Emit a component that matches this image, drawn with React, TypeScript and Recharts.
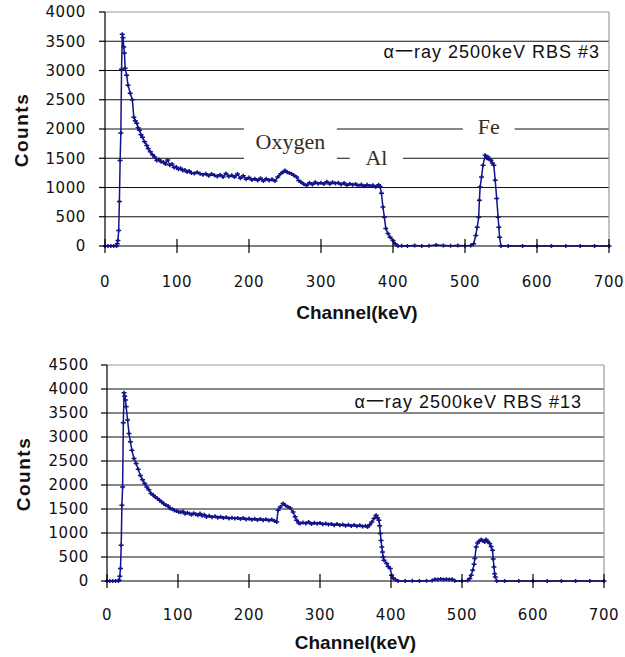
import {
  LineChart,
  Line,
  XAxis,
  YAxis,
  CartesianGrid,
  ReferenceLine,
  ReferenceArea,
  ReferenceDot,
} from "recharts";

// channel ticks shared by both spectra
const channelTicks = [0, 100, 200, 300, 400, 500, 600, 700];
const topCountTicks = [0, 500, 1000, 1500, 2000, 2500, 3000, 3500, 4000];
const bottomCountTicks = [0, 500, 1000, 1500, 2000, 2500, 3000, 3500, 4000, 4500];

// sample #3
const topChannels = [
  0, 4, 8, 12, 16, 17, 18, 19, 20, 21, 22, 23, 24, 25, 26, 27, 28, 30, 32, 35, 38, 40, 42, 44, 46, 48, 50, 52,
  55, 58, 60, 63, 66, 69, 72, 75, 78, 81, 84, 87, 90, 93, 96, 99, 102, 105, 108, 111, 114, 117, 120, 124, 128,
  132, 136, 140, 144, 148, 152, 156, 160, 164, 168, 172, 176, 180, 184, 188, 192, 196, 200, 204, 208, 212, 216,
  220, 224, 228, 232, 236, 240, 244, 248, 250, 253, 256, 259, 262, 266, 269, 272, 276, 280, 284, 288, 292, 296,
  300, 304, 308, 312, 316, 320, 324, 328, 332, 336, 340, 344, 348, 352, 356, 360, 364, 368, 372, 376, 380, 382,
  384, 386, 388, 390, 393, 396, 400, 403, 407, 412, 420, 430, 440, 450, 460, 470, 480, 490, 500, 508, 512, 515,
  517, 519, 520, 521, 523, 525, 528, 530, 532, 534, 536, 538, 540, 542, 544, 546, 547, 548, 550, 560, 580, 600,
  620, 640, 660, 680, 700,
];
const topCounts = [
  0, 0, 0, 0, 0, 40, 95, 265, 760, 1460, 1930, 3020, 3620, 3560, 3400, 3300, 3040, 2920, 2750, 2610, 2500, 2200,
  2140, 2100, 2020, 1980, 1900, 1860, 1780, 1720, 1665, 1610, 1560, 1520, 1460, 1480, 1440, 1435, 1400, 1470,
  1380, 1400, 1340, 1350, 1310, 1330, 1290, 1300, 1265, 1280, 1250, 1240, 1260, 1237, 1220, 1235, 1200, 1230,
  1208, 1190, 1220, 1180, 1240, 1190, 1210, 1180, 1230, 1160, 1200, 1140, 1170, 1130, 1150, 1120, 1160, 1110,
  1150, 1120, 1140, 1110, 1180, 1237, 1270, 1290, 1260, 1250, 1235, 1210, 1180, 1120, 1093, 1060, 1036, 1080,
  1050, 1090, 1065, 1080, 1060, 1100, 1060, 1090, 1070, 1080, 1050, 1075, 1040, 1065, 1045, 1060, 1030, 1050,
  1020, 1045, 1025, 1040, 1010, 1045, 1015, 900, 665, 493, 300, 214, 150, 94, 40, 0, 5, 0, 10, 0, 5, 15, 10, 5,
  10, 5, 10, 40, 180, 322, 493, 780, 1007, 1180, 1380, 1550, 1500, 1520, 1480, 1465, 1420, 1380, 1122, 813, 493,
  320, 150, 0, 0, 0, 0, 0, 0, 0, 0, 0,
];

// sample #13
const bottomChannels = [
  0, 4, 8, 12, 16, 17, 18, 19, 20, 21, 22, 23, 24, 25, 26, 27, 29, 31, 33, 35, 38, 41, 44, 47, 50, 53, 56, 59,
  62, 65, 68, 71, 74, 77, 80, 83, 86, 89, 92, 95, 98, 101, 104, 107, 110, 113, 116, 119, 122, 125, 128, 131, 134,
  137, 140, 144, 148, 152, 156, 160, 164, 168, 172, 176, 180, 184, 188, 192, 196, 200, 204, 208, 212, 216, 220,
  224, 228, 232, 236, 239, 241, 244, 248, 251, 255, 258, 262, 265, 267, 270, 272, 276, 280, 284, 288, 292, 296,
  300, 304, 308, 312, 316, 320, 324, 328, 332, 336, 340, 344, 348, 352, 356, 360, 364, 367, 370, 373, 376, 379,
  381, 383, 384, 385, 386, 387, 388, 389, 390, 394, 396, 399, 401, 403, 406, 410, 420, 430, 440, 450, 458, 462,
  466, 470, 474, 478, 482, 486, 490, 500, 508, 511, 513, 515, 517, 518, 520, 522, 524, 527, 529, 532, 534, 536,
  539, 541, 543, 544, 545, 546, 547, 549, 560, 580, 600, 620, 640, 660, 680, 700,
];
const bottomCounts = [
  0, 0, 0, 0, 0, 20, 100, 258, 745, 1580, 1960, 3296, 3922, 3850, 3770, 3630, 3352, 3075, 2900, 2726, 2553, 2449,
  2330, 2200, 2110, 2032, 1960, 1900, 1823, 1790, 1752, 1720, 1680, 1648, 1610, 1579, 1560, 1510, 1500, 1470,
  1460, 1440, 1430, 1450, 1400, 1420, 1405, 1380, 1410, 1390, 1370, 1405, 1360, 1380, 1335, 1360, 1330, 1350,
  1320, 1340, 1310, 1330, 1300, 1320, 1300, 1310, 1290, 1310, 1280, 1300, 1275, 1295, 1270, 1290, 1266, 1285,
  1260, 1280, 1250, 1231, 1475, 1540, 1614, 1580, 1544, 1520, 1440, 1340, 1266, 1210, 1197, 1220, 1200, 1230,
  1190, 1215, 1195, 1210, 1180, 1200, 1175, 1190, 1162, 1185, 1160, 1175, 1150, 1170, 1145, 1165, 1140, 1160,
  1135, 1150, 1126, 1170, 1231, 1300, 1370, 1320, 1266, 1150, 989, 846, 710, 605, 500, 432, 363, 300, 258, 119,
  60, 29, 0, 0, 5, 0, 5, 10, 35, 30, 40, 30, 35, 30, 35, 5, 0, 10, 50, 120, 223, 350, 467, 710, 790, 830, 864,
  840, 814, 864, 830, 780, 720, 640, 460, 292, 150, 83, 0, 0, 0, 0, 0, 0, 0, 0, 0,
];

const topData = topChannels.map((ch, i) => ({ ch, counts: topCounts[i] }));
const bottomData = bottomChannels.map((ch, i) => ({ ch, counts: bottomCounts[i] }));

const NAVY = "#12128a";
const tickFont = { fontFamily: "DejaVu Sans", fontSize: 15, fill: "#111", letterSpacing: 0.6 };
const noteFont = { fontFamily: "Liberation Serif", fontSize: 22, fill: "#3a2c1c" };
const rbsFont = {
  fontFamily: "Liberation Sans, Noto Sans CJK SC",
  fontSize: 18,
  fill: "#111",
  letterSpacing: 1,
};

const CrossDot = (props: any) => {
  const { cx, cy, index } = props;
  if (cx == null || cy == null) return <g key={index} />;
  return (
    <path
      key={index}
      d={`M${cx - 2.5},${cy}H${cx + 2.5}M${cx},${cy - 2}V${cy + 2}`}
      stroke={NAVY}
      strokeWidth={1.5}
      fill="none"
    />
  );
};

const makeXTick = (labelGap: number) => (props: any) => {
  const { x, y, payload } = props;
  const axisY = y - 7;
  return (
    <g>
      <line x1={x} x2={x} y1={axisY - 7} y2={axisY + 7} stroke="#000" strokeWidth={1.2} />
      <text x={x} y={axisY + labelGap} textAnchor="middle" dominantBaseline="central" {...tickFont}>
        {payload.value}
      </text>
    </g>
  );
};

const countsLabel = (cxOff: number) => (props: any) => {
  const vb = props.viewBox || {};
  const cx = (vb.x || 0) + cxOff;
  const cy = (vb.y || 0) + (vb.height || 0) / 2 + 1;
  return (
    <text
      x={cx}
      y={cy}
      transform={`rotate(-90 ${cx} ${cy})`}
      textAnchor="middle"
      dominantBaseline="central"
      fontFamily="Liberation Sans"
      fontWeight="bold"
      fontSize={19}
      letterSpacing={1.5}
      fill="#111"
    >
      Counts
    </text>
  );
};

const channelLabel = {
  value: "Channel(keV)",
  position: "insideBottom" as const,
  fontFamily: "Liberation Sans",
  fontWeight: "bold",
  fontSize: 19,
  fill: "#111",
};

export default function App() {
  return (
    <div style={{ position: "absolute", left: 0, top: 0, width: 625, height: 657, background: "#fff" }}>
      <div style={{ position: "absolute", left: 0, top: 0 }}>
        <LineChart width={625} height={330} data={topData} margin={{ top: 12, right: 16, bottom: 4, left: 0 }}>
          <CartesianGrid
            vertical={false}
            horizontalValues={[500, 1000, 1500, 2000, 2500, 3000, 3500]}
            stroke="#111"
            strokeWidth={1.2}
          />
          <ReferenceLine y={4000} stroke="#9a9a9a" strokeWidth={1.2} />
          <ReferenceLine x={700} stroke="#9a9a9a" strokeWidth={1.2} />
          <ReferenceArea x1={193} x2={322} y1={1450} y2={2150} fill="#fff" fillOpacity={1} stroke="none"
            label={{ value: "Oxygen", position: "center", ...noteFont }} />
          <ReferenceArea x1={340} x2={414} y1={1300} y2={1725} fill="#fff" fillOpacity={1} stroke="none"
            label={{ value: "Al", position: "center", ...noteFont }} />
          <ReferenceArea x1={497} x2={569} y1={1850} y2={2260} fill="#fff" fillOpacity={1} stroke="none"
            label={{ value: "Fe", position: "center", ...noteFont }} />
          <ReferenceDot x={700} y={3320} r={0} stroke="none" fill="none"
            label={{ value: "α一ray 2500keV RBS #3", position: "left", offset: 9, ...rbsFont }} />
          <XAxis
            dataKey="ch"
            type="number"
            domain={[0, 700]}
            ticks={channelTicks}
            height={80}
            tickSize={7}
            tickMargin={0}
            tickLine={false}
            axisLine={{ stroke: "#000", strokeWidth: 1.2 }}
            tick={makeXTick(35.5)}
            label={{ ...channelLabel, offset: 7 }}
          />
          <YAxis
            type="number"
            domain={[0, 4000]}
            ticks={topCountTicks}
            width={105}
            tickSize={6}
            tickMargin={13}
            axisLine={{ stroke: "#000", strokeWidth: 1.2 }}
            tickLine={{ stroke: "#000", strokeWidth: 1.2 }}
            tick={tickFont}
            label={{ content: countsLabel(21.5) }}
          />
          <Line
            type="linear"
            dataKey="counts"
            stroke={NAVY}
            strokeWidth={1.5}
            dot={CrossDot}
            activeDot={false}
            isAnimationActive={false}
          />
        </LineChart>
      </div>
      <div style={{ position: "absolute", left: 0, top: 330 }}>
        <LineChart width={625} height={327} data={bottomData} margin={{ top: 35, right: 21, bottom: 2, left: 0 }}>
          <CartesianGrid
            vertical={false}
            horizontalValues={[500, 1000, 1500, 2000, 2500, 3000, 3500, 4000]}
            stroke="#111"
            strokeWidth={1.2}
          />
          <ReferenceLine y={4500} stroke="#9a9a9a" strokeWidth={1.2} />
          <ReferenceLine x={700} stroke="#9a9a9a" strokeWidth={1.2} />
          <ReferenceDot x={700} y={3730} r={0} stroke="none" fill="none"
            label={{ value: "α一ray 2500keV RBS #13", position: "left", offset: 22, ...rbsFont }} />
          <XAxis
            dataKey="ch"
            type="number"
            domain={[0, 700]}
            ticks={channelTicks}
            height={74}
            tickSize={7}
            tickMargin={0}
            tickLine={false}
            axisLine={{ stroke: "#000", strokeWidth: 1.2 }}
            tick={makeXTick(33.5)}
            label={{ ...channelLabel, offset: 6 }}
          />
          <YAxis
            type="number"
            domain={[0, 4500]}
            ticks={bottomCountTicks}
            width={107}
            tickSize={6}
            tickMargin={12}
            axisLine={{ stroke: "#000", strokeWidth: 1.2 }}
            tickLine={{ stroke: "#000", strokeWidth: 1.2 }}
            tick={tickFont}
            label={{ content: countsLabel(23.3) }}
          />
          <Line
            type="linear"
            dataKey="counts"
            stroke={NAVY}
            strokeWidth={1.5}
            dot={CrossDot}
            activeDot={false}
            isAnimationActive={false}
          />
        </LineChart>
      </div>
    </div>
  );
}
